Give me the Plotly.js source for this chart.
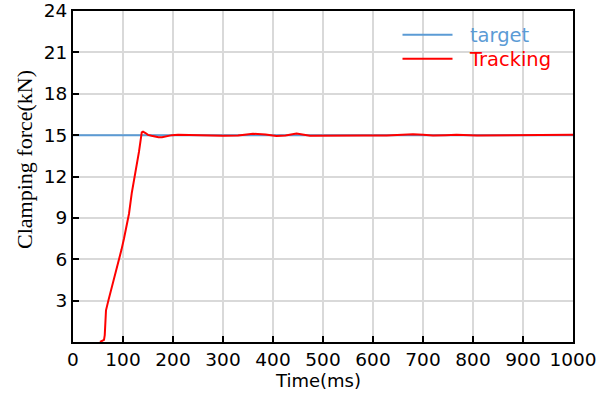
<!DOCTYPE html>
<html>
<head>
<meta charset="utf-8">
<script src="https://cdn.plot.ly/plotly-3.0.1.min.js"></script>
<style>html,body{margin:0;padding:0;background:#fff;}#chart{width:599px;height:394px;}</style>
</head>
<body>
<div id="chart"></div>
<script>
// Data
const targetTime = [0, 1000];
const targetForce = [15, 15];

const trackTime = [54, 62, 63.5, 64.5, 66, 70.7, 77, 84, 90, 97, 102, 107.5, 112, 117.5, 122, 127.5, 132, 137.5, 140, 145, 150, 157, 164, 171, 178, 184, 190, 198, 210, 230, 254, 280, 300, 330, 360, 385, 407, 425, 447, 474, 500, 540, 580, 627, 655, 680, 700, 720, 745, 767, 808, 850, 920, 960, 1000];
const trackForce = [0, 0.15, 0.5, 1.6, 2.3, 3.0, 3.9, 4.7, 5.6, 6.7, 7.5, 8.4, 9.3, 10.8, 11.7, 12.75, 13.8, 15.2, 15.25, 15.15, 15.02, 14.95, 14.88, 14.84, 14.84, 14.88, 14.95, 15.0, 15.02, 15.0, 15.0, 14.97, 14.95, 14.97, 15.1, 15.05, 14.93, 14.98, 15.12, 14.95, 14.96, 15.0, 14.98, 14.97, 15.0, 15.07, 15.02, 14.97, 15.0, 15.02, 14.97, 14.98, 15.0, 15.0, 15.03];

const xTicks = [0, 100, 200, 300, 400, 500, 600, 700, 800, 900, 1000];
const yTicks = [3, 6, 9, 12, 15, 18, 21, 24];

const blue = '#5B9BD5';
const red = '#FF0000';
const pad = '\u00a0\u00a0';

const traces = [
  {x: targetTime, y: targetForce, mode: 'lines', name: pad + '<span style="color:' + blue + '">target</span>',
   line: {color: blue, width: 2}, legend: 'legend'},
  {x: trackTime, y: trackForce, mode: 'lines', name: pad + '<span style="color:' + red + '">Tracking</span>',
   line: {color: red, width: 2}, legend: 'legend2'}
];

const axisCommon = {
  showline: true, linecolor: '#000', linewidth: 2, mirror: true,
  ticks: 'inside', ticklen: 6, tickwidth: 2, tickcolor: '#000',
  showgrid: true, gridcolor: '#d9d9d9', gridwidth: 2,
  zeroline: false,
  tickfont: {family: 'DejaVu Sans', size: 18.5, color: '#000'}
};

const legendCommon = {xanchor: 'left', yanchor: 'middle', bgcolor: 'rgba(0,0,0,0)',
  font: {family: 'DejaVu Sans', size: 19.5}, itemwidth: 50, borderwidth: 0};

const layout = {
  width: 599, height: 394,
  margin: {l: 73, r: 26, t: 11, b: 52},
  paper_bgcolor: '#fff', plot_bgcolor: '#fff',
  showlegend: true,
  legend: Object.assign({}, legendCommon, {x: 0.649, y: 0.9275}),
  legend2: Object.assign({}, legendCommon, {x: 0.649, y: 0.855}),
  xaxis: Object.assign({}, axisCommon, {
    range: [0, 1000], tickmode: 'array', tickvals: xTicks, ticktext: xTicks.map(String)
  }),
  yaxis: Object.assign({}, axisCommon, {
    range: [0, 24], tickmode: 'array', tickvals: yTicks, ticktext: yTicks.map(String)
  }),
  annotations: [
    {text: 'Time(ms)', xref: 'paper', yref: 'paper', x: 0.489, y: -0.117, xanchor: 'center', yanchor: 'middle',
     showarrow: false, font: {family: 'DejaVu Sans', size: 18, color: '#000'}},
    {text: 'Clamping force(kN)', xref: 'paper', yref: 'paper', x: -0.096, y: 0.55, xanchor: 'center', yanchor: 'middle',
     textangle: -90, showarrow: false, font: {family: 'Liberation Serif', size: 22, color: '#000'}}
  ]
};

Plotly.newPlot('chart', traces, layout, {displayModeBar: false, staticPlot: true});
</script>
</body>
</html>
